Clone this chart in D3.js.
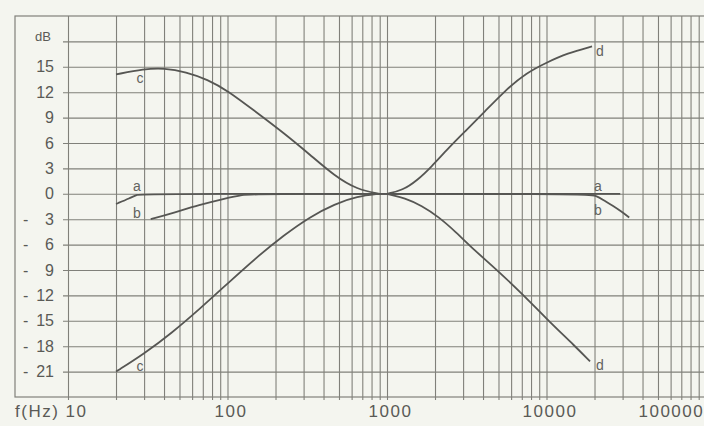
<!DOCTYPE html>
<html>
<head>
<meta charset="utf-8">
<script src="https://cdn.jsdelivr.net/npm/d3@7"></script>
<style>
  html, body { margin: 0; padding: 0; background: #f4f5ef; }
  svg { display: block; font-family: "Liberation Sans", Arial, sans-serif; }
  .grid line { stroke: #80807a; stroke-width: 1.1; }
  .grid path { display: none; }
  .frame { fill: none; stroke: #80807a; stroke-width: 1.2; }
  .curve { fill: none; stroke: #565653; stroke-width: 1.8; }
  .ylab text { font-size: 16px; fill: #5a5a56; }
  .xlab text { font-size: 17px; fill: #5a5a56; letter-spacing: 1.5px; }
  .curve-label { font-size: 14px; fill: #62625e; }
</style>
</head>
<body>
<div id="chart"></div>
<script>
// frequency response: a/b = flat and filtered, c = bass boost/cut, d = treble boost/cut
const xTicks = [10, 100, 1000, 10000, 100000];
const xTickLabels = ["10", "100", "1000", "10000", "100000"];
const yTicks = [15, 12, 9, 6, 3, 0, -3, -6, -9, -12, -15, -18, -21];
const yTickLabels = ["15", "12", "9", "6", "3", "0", "3", "6", "9", "12", "15", "18", "21"];
const gridDb = [18, 15, 12, 9, 6, 3, 0, -3, -6, -9, -12, -15, -18, -21];

const aFreq = [20, 24.5, 27, 29, 29000];
const aDb = [-1.2, -0.5, -0.1, 0, 0];

const bFreq = [33, 45, 67, 95, 125, 150, 18000, 20500, 23000, 26000, 29500, 33000];
const bDb = [-3.0, -2.3, -1.3, -0.6, -0.1, 0, 0, -0.2, -0.8, -1.4, -2.1, -2.8];

const cBoostFreq = [20, 30, 40, 55, 75, 100, 150, 225, 330, 470, 650, 900];
const cBoostDb = [14.1, 14.75, 14.85, 14.4, 13.5, 12.2, 9.7, 7.2, 4.6, 2.1, 0.5, 0];

const cCutFreq = [20, 30, 45, 67, 100, 150, 225, 330, 470, 650, 900];
const cCutDb = [-21.0, -18.9, -16.4, -13.6, -10.6, -7.6, -4.9, -2.7, -1.2, -0.3, 0];

const dBoostFreq = [1000, 1250, 1550, 1900, 2400, 3100, 4100, 5500, 7500, 10000, 13500, 19300];
const dBoostDb = [0, 0.4, 1.6, 3.2, 5.3, 7.4, 9.7, 12.2, 14.3, 15.5, 16.6, 17.4];

const dCutFreq = [1000, 1300, 1650, 2100, 2700, 3500, 4900, 7200, 10300, 15100, 18750];
const dCutDb = [0, -0.5, -1.4, -2.7, -4.5, -6.6, -9.0, -12.0, -15.0, -18.0, -19.8];

const curveLabels = [
  { t: "a", f: 27, db: 0.9 },
  { t: "b", f: 27, db: -2.3 },
  { t: "c", f: 28.3, db: 13.7 },
  { t: "c", f: 28.3, db: -20.3 },
  { t: "a", f: 21000, db: 0.9 },
  { t: "b", f: 21000, db: -1.9 },
  { t: "d", f: 21600, db: 16.8 },
  { t: "d", f: 21600, db: -20.2 },
];

const W = 704, H = 426;
const frame = { left: 15, top: 16, bottom: 397 };

const svg = d3.select("#chart").append("svg").attr("width", W).attr("height", H);

const x = d3.scaleLog().domain([10, 100000]).range([68, 706]);
const y = d3.scaleLinear().domain([-24, 21]).range([frame.bottom, frame.top]);

// grid frequencies 10..90, 100..900 ... 100000
const gridFreq = [];
for (let dec = 10; dec < 100000; dec *= 10) {
  for (let m = 1; m <= 9; m++) gridFreq.push(dec * m);
}
gridFreq.push(100000);

// Frame
svg.append("rect")
  .attr("class", "frame")
  .attr("x", frame.left)
  .attr("y", frame.top)
  .attr("width", W + 20 - frame.left)
  .attr("height", frame.bottom - frame.top);

// Vertical grid
svg.append("g")
  .attr("class", "grid")
  .attr("transform", `translate(0,${frame.bottom + 3})`)
  .call(d3.axisBottom(x).tickValues(gridFreq).tickSize(-(frame.bottom + 3 - frame.top)).tickFormat(""));

// Horizontal grid
svg.append("g")
  .attr("class", "grid")
  .attr("transform", "translate(63,0)")
  .call(d3.axisLeft(y).tickValues(gridDb).tickSize(-(W + 20 - 63)).tickFormat(""));

// Y labels
const yAxis = svg.append("g")
  .attr("class", "ylab")
  .attr("transform", "translate(54,0)")
  .call(d3.axisLeft(y).tickValues(yTicks).tickSize(0).tickPadding(0)
    .tickFormat((d, i) => yTickLabels[i]));
yAxis.select(".domain").remove();
yAxis.selectAll(".tick")
  .filter((d) => d < 0)
  .append("text")
  .attr("x", -31)
  .attr("dy", "0.32em")
  .attr("text-anchor", "start")
  .attr("fill", "#5a5a56")
  .text("-");

svg.append("text")
  .attr("x", 51)
  .attr("y", y(18) - 5)
  .attr("dy", "0.32em")
  .attr("text-anchor", "end")
  .attr("font-size", 13)
  .attr("fill", "#5a5a56")
  .text("dB");

// X labels
const lastTick = xTicks.length - 1;
const xAxis = svg.append("g")
  .attr("class", "xlab")
  .attr("transform", "translate(0,405)")
  .call(d3.axisBottom(x).tickValues(xTicks).tickSize(0).tickPadding(0)
    .tickFormat((d, i) => xTickLabels[i]));
xAxis.select(".domain").remove();
xAxis.selectAll(".tick text")
  .attr("dy", "0.71em")
  .attr("text-anchor", (d, i) => (i === 0 || i === lastTick ? "start" : "middle"))
  .attr("dx", (d, i) => (i === 0 ? -3 : i === lastTick ? -68 : 3));

svg.append("text")
  .attr("x", frame.left)
  .attr("y", 405)
  .attr("dy", "0.71em")
  .attr("font-size", 17)
  .attr("letter-spacing", "1.5px")
  .attr("fill", "#5a5a56")
  .text("f(Hz)");

// Curves
const line = d3.line()
  .x((d) => x(d[0]))
  .y((d) => y(d[1]))
  .curve(d3.curveBasis);

const series = [
  [aFreq, aDb],
  [bFreq, bDb],
  [cBoostFreq, cBoostDb],
  [cCutFreq, cCutDb],
  [dBoostFreq, dBoostDb],
  [dCutFreq, dCutDb],
];

svg.selectAll(".curve")
  .data(series.map(([f, v]) => f.map((fi, i) => [fi, v[i]])))
  .enter()
  .append("path")
  .attr("class", "curve")
  .attr("d", line);

// Curve letters
svg.selectAll(".curve-label")
  .data(curveLabels)
  .enter()
  .append("text")
  .attr("class", "curve-label")
  .attr("x", (d) => x(d.f))
  .attr("y", (d) => y(d.db))
  .attr("dy", "0.35em")
  .attr("text-anchor", "middle")
  .text((d) => d.t);
</script>
</body>
</html>
